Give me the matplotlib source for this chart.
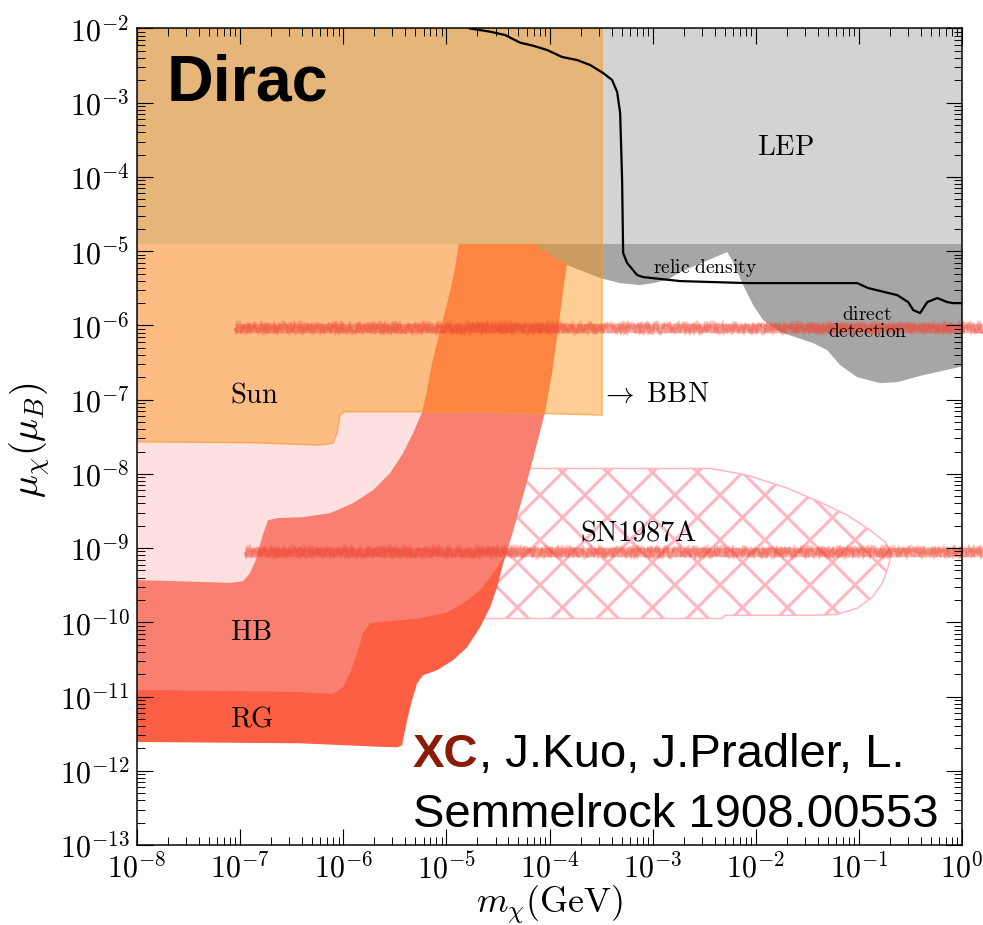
import numpy as np
import matplotlib
matplotlib.use("Agg")
import matplotlib.pyplot as plt
from matplotlib.ticker import LogLocator, NullFormatter, FuncFormatter

DPI = 270
plt.rcParams["mathtext.fontset"] = "cm"
plt.rcParams["hatch.linewidth"] = 0.8
plt.rcParams["hatch.color"] = "#ffb6c1"

# ---- exclusion boundaries: log10(m_chi / GeV), log10(mu_chi / mu_B) ----
# Sun: lower edge, region extends up to the top, right edge at sun_lm_max
sun_lm = [-8.0, -6.904, -6.225, -6.099, -6.060, -6.031, -5.983, -4.673, -3.490]
sun_lmu = [-7.569, -7.580, -7.613, -7.586, -7.452, -7.209, -7.164, -7.164, -7.209]
sun_lm_max = -3.49

# light pink band (lower edge then right edge up to the top)
pink_lm = [-8.0, -7.389, -7.098, -6.972, -6.904, -6.836, -6.788, -6.729, -6.642, -6.390, -6.128,
           -5.905, -5.711, -5.546, -5.420, -5.323, -5.236, -5.187, -5.139, -5.061, -4.984,
           -4.925, -4.877, -4.848]
pink_lmu = [-9.431, -9.456, -9.469, -9.446, -9.338, -9.123, -8.853, -8.624, -8.597, -8.583,
            -8.530, -8.395, -8.220, -7.991, -7.721, -7.452, -7.168, -6.871, -6.508, -6.063,
            -5.658, -5.294, -4.890, -2.0]

# HB
hb_lm = [-8.0, -6.419, -6.099, -6.002, -5.934, -5.866, -5.808, -5.740, -5.643, -5.255, -4.993,
         -4.838, -4.673, -4.547, -4.460, -4.411, -4.363, -4.305, -4.246, -4.188, -4.120, -4.043,
         -3.975, -3.917, -3.868, -3.829, -3.800, -3.781]
hb_lmu = [-10.911, -10.938, -10.965, -10.874, -10.685, -10.416, -10.147, -10.011, -9.998, -9.946,
          -9.865, -9.744, -9.569, -9.340, -9.164, -9.029, -8.826, -8.530, -8.247, -7.950, -7.586,
          -7.168, -6.642, -6.063, -5.524, -5.160, -4.716, -2.0]

# RG
rg_lm = [-8.0, -6.419, -5.643, -5.478, -5.430, -5.381, -5.333, -5.284, -5.226, -5.090, -4.935,
         -4.799, -4.673, -4.576, -4.508, -4.460, -4.411, -4.333, -4.237, -4.140, -4.120]
rg_lmu = [-11.612, -11.630, -11.677, -11.684, -11.657, -11.320, -11.050, -10.821, -10.713,
          -10.645, -10.511, -10.336, -10.066, -9.797, -9.528, -9.258, -9.029, -8.085, -7.007,
          -4.890, -2.0]

# LEP: everything above this coupling
lep_lmu = -4.898

# direct detection lower edge
dd_lm = [-4.159, -3.829, -3.509, -3.315, -3.121, -2.995, -2.859, -2.733, -2.277, -2.219, -2.122,
         -2.025, -1.928, -1.763, -1.443, -1.307, -1.181, -1.016, -0.793, -0.628, -0.376, -0.085, 0.0]
dd_lmu = [-4.898, -5.187, -5.362, -5.430, -5.457, -5.430, -5.389, -5.282, -5.012, -5.147, -5.457,
          -5.727, -5.929, -6.090, -6.239, -6.333, -6.536, -6.697, -6.778, -6.765, -6.670, -6.580, -6.553]

# SN1987A outline
sn_lm = [-4.964, -2.442, -2.083, -1.695, -1.375, -1.113, -0.890, -0.745, -0.687, -0.716, -0.774,
         -0.871, -1.016, -1.210, -1.443, -2.297, -2.326, -4.964]
sn_lmu = [-7.927, -7.927, -8.017, -8.193, -8.381, -8.557, -8.759, -8.921, -9.069, -9.257, -9.473,
          -9.662, -9.811, -9.892, -9.906, -9.906, -9.949, -9.949]

# relic density curve
relic_lm = [-4.770, -4.576, -4.431, -4.285, -4.159, -4.023, -3.878, -3.732, -3.606, -3.480, -3.393,
            -3.344, -3.315, -3.296, -3.286, -3.247, -3.150, -3.092, -2.733, -2.083, -1.443, -1.016,
            -0.910, -0.628, -0.522, -0.473, -0.406, -0.337, -0.240, -0.143, -0.085, 0.0]
relic_lmu = [-2.0, -2.043, -2.088, -2.191, -2.232, -2.290, -2.384, -2.425, -2.492, -2.600, -2.694,
             -2.856, -3.139, -4.042, -5.026, -5.160, -5.322, -5.349, -5.403, -5.430, -5.430, -5.430,
             -5.497, -5.592, -5.686, -5.794, -5.834, -5.686, -5.632, -5.686, -5.700, -5.700]

# marker strokes (benchmark couplings)
stroke_lm_start = [-7.05, -6.95]
stroke_lm_end = 0.206
stroke_lmu = [-6.04, -9.05]

LM_MIN, LM_MAX = -8.0, 0.0
LMU_MIN, LMU_MAX = -13.0, -2.0


def P(lm, lmu):
    return 10.0 ** np.asarray(lm, float), 10.0 ** np.asarray(lmu, float)


def region_to_top(lm, lmu):
    """Close a boundary into a polygon reaching the upper-left corner."""
    xs = [LM_MIN] + list(lm) + [lm[-1]]
    ys = [LMU_MAX] + list(lmu) + [LMU_MAX]
    return P(xs, ys)


fig = plt.figure(figsize=(983.01 / DPI, 925.01 / DPI), dpi=DPI)
ax = fig.add_axes([137 / 983, 80 / 925, 825 / 983, 816.5 / 925])
ax.set_xscale("log")
ax.set_yscale("log")
ax.set_xlim(10 ** LM_MIN, 10 ** LM_MAX)
ax.set_ylim(10 ** LMU_MIN, 10 ** LMU_MAX)

# SN1987A hatched region
x, y = P(sn_lm, sn_lmu)
ax.fill(x, y, facecolor="none", edgecolor="#ffb6c1", hatch="xx", linewidth=0.4, zorder=1)

# stellar regions
x, y = region_to_top(rg_lm, rg_lmu)
ax.fill(x, y, color="#fd5f45", lw=0, zorder=2)
x, y = region_to_top(hb_lm, hb_lmu)
ax.fill(x, y, color="#f98070", lw=0, zorder=3)
x, y = region_to_top(pink_lm, pink_lmu)
ax.fill(x, y, color="#fde0df", lw=0, zorder=4)

# direct detection
x, y = P(dd_lm + [0.0, dd_lm[0]], dd_lmu + [-4.6, -4.6])
ax.fill(x, y, color="#a6a6a6", lw=0, zorder=5)

# LEP
ax.fill_between([10 ** LM_MIN, 10 ** LM_MAX], 10 ** lep_lmu, 10 ** LMU_MAX,
                color="#d3d3d3", lw=0, zorder=6)

# Sun (translucent)
sx = [LM_MIN] + sun_lm + [sun_lm_max, sun_lm_max]
sy = [LMU_MAX] + sun_lmu + [sun_lmu[-1], LMU_MAX]
x, y = P(sx, sy)
ax.fill(x, y, facecolor=(1.0, 0.55, 0.0, 0.42), edgecolor=(0.98, 0.6, 0.15, 0.7),
        linewidth=0.35, zorder=7)

# relic density line
x, y = P(relic_lm, relic_lmu)
ax.plot(x, y, color="black", lw=0.6, zorder=8)

# hand-drawn marker strokes: solid core plus ragged scribble edges
for lm0, lmu in zip(stroke_lm_start, stroke_lmu):
    x, y = P([lm0, stroke_lm_end], [lmu, lmu])
    ax.plot(x, y, color="#ef4a36", lw=2.5, alpha=0.36, clip_on=False,
            solid_capstyle="butt", zorder=9)
    for lw, a, sk in [(0.6, 0.30, (6.5, 1.6, 2)), (0.6, 0.25, (5.0, 2.2, 3)),
                      (0.4, 0.25, (3.0, 3.0, 2))]:
        ln, = ax.plot(x, y, color="#ef4a36", lw=lw, alpha=a, clip_on=False,
                      solid_capstyle="butt", zorder=9)
        ln.set_sketch_params(*sk)

# labels
lab = dict(fontsize=7.6, color="black", zorder=12)
small = dict(fontsize=5.2, color="black", zorder=12)
ax.text(10 ** -7.098, 10 ** -7.034, r"$\mathrm{Sun}$", ha="left", va="baseline", **lab)
ax.text(10 ** -7.098, 10 ** -10.241, r"$\mathrm{HB}$", ha="left", va="baseline", **lab)
ax.text(10 ** -7.098, 10 ** -11.400, r"$\mathrm{RG}$", ha="left", va="baseline", **lab)
ax.text(10 ** -1.986, 10 ** -3.705, r"$\mathrm{LEP}$", ha="left", va="baseline", **lab)
ax.text(10 ** -3.509, 10 ** -7.034, r"$\rightarrow\ \mathrm{BBN}$", ha="left", va="baseline", **lab)
ax.text(10 ** -3.703, 10 ** -8.894, r"$\mathrm{SN1987A}$", ha="left", va="baseline", **lab)
ax.text(10 ** -2.995, 10 ** -5.295, r"$\mathrm{relic\ density}$", ha="left", va="baseline", **small)
ax.text(10 ** -0.919, 10 ** -5.928, r"$\mathrm{direct}$", ha="center", va="baseline", **small)
ax.text(10 ** -0.919, 10 ** -6.162, r"$\mathrm{detection}$", ha="center", va="baseline", **small)

# axes styling
pow_fmt = FuncFormatter(lambda v, pos: r"$10^{%d}$" % int(round(np.log10(v))))
ax.xaxis.set_major_locator(LogLocator(base=10, numticks=30))
ax.yaxis.set_major_locator(LogLocator(base=10, numticks=30))
ax.xaxis.set_major_formatter(pow_fmt)
ax.yaxis.set_major_formatter(pow_fmt)
ax.xaxis.set_minor_locator(LogLocator(base=10, subs=np.arange(2, 10), numticks=300))
ax.yaxis.set_minor_locator(LogLocator(base=10, subs=np.arange(2, 10), numticks=300))
ax.xaxis.set_minor_formatter(NullFormatter())
ax.yaxis.set_minor_formatter(NullFormatter())
ax.tick_params(which="both", direction="in", top=True, right=True, labelsize=8.0,
               colors="black")
ax.tick_params(which="major", length=4.3, width=0.3, pad=2.0)
ax.tick_params(which="minor", length=2.2, width=0.25)
for s in ax.spines.values():
    s.set_linewidth(0.4)
    s.set_zorder(15)
ax.xaxis.set_zorder(15)
ax.yaxis.set_zorder(15)

ax.set_xlabel(r"$m_\chi(\mathrm{GeV})$", fontsize=9.6)
ax.set_ylabel(r"$\mu_\chi(\mu_B)$", fontsize=10.2)
ax.xaxis.set_label_coords(0.5, -0.047)
ax.yaxis.set_label_coords(-0.103, 0.496)

# titles / credit
fig.text(167 / 983, 1 - 100 / 925, "Dirac", fontsize=17.2, fontweight="bold",
         family="Liberation Sans", ha="left", va="baseline", zorder=20)
t1 = fig.text(413 / 983, 1 - 767 / 925, "XC", fontsize=12.6, fontweight="bold",
              family="Liberation Sans", color="#8c1a06", ha="left", va="baseline", zorder=20)
fig.canvas.draw()
bb = t1.get_window_extent()
fig.text(bb.x1 / fig.bbox.width + 0.001, 1 - 767 / 925, ", J.Kuo, J.Pradler, L.", fontsize=12.6,
         family="Liberation Sans", color="black", ha="left", va="baseline", zorder=20)
fig.text(413 / 983, 1 - 827 / 925, "Semmelrock 1908.00553", fontsize=12.6,
         family="Liberation Sans", color="black", ha="left", va="baseline", zorder=20)

fig.savefig("out.png", dpi=DPI)
